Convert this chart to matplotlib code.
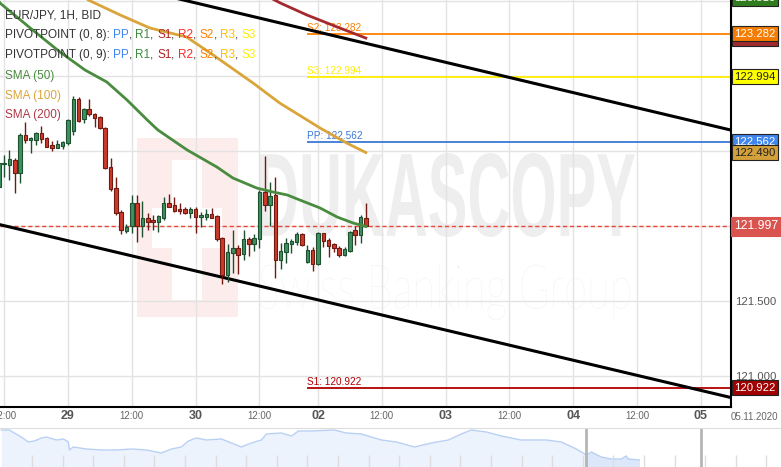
import matplotlib.pyplot as plt
from matplotlib.patches import Rectangle, PathPatch
from matplotlib.textpath import TextPath
from matplotlib.font_manager import FontProperties
from matplotlib.transforms import Affine2D, blended_transform_factory

plt.rcParams['font.family'] = ['Liberation Sans', 'DejaVu Sans']

W, H = 781, 467

# hourly candles, hour index 0 = 29 Oct 00:00 (weekend hours removed)
hours = list(range(-13, 57))
opens = [122.260, 122.413, 122.407, 122.440, 122.356, 122.607, 122.573, 122.573, 122.618, 122.589,
         122.540, 122.522, 122.536, 122.551, 122.636, 122.844, 122.711, 122.778, 122.747, 122.724,
         122.651, 122.391, 122.256, 122.096, 121.969, 122.000, 122.151, 122.000, 122.051, 122.040,
         122.029, 122.056, 122.151, 122.140, 122.113, 122.113, 122.089, 122.111, 122.058, 122.062,
         122.078, 122.067, 121.918, 121.673, 121.818, 121.856, 121.813, 121.911, 121.878, 121.911,
         122.229, 122.140, 122.207, 121.773, 121.829, 121.878, 121.891, 121.944, 121.758, 121.840,
         121.744, 121.951, 121.907, 121.878, 121.856, 121.807, 121.836, 121.973, 121.940, 122.056]
highs = [122.440, 122.473, 122.507, 122.451, 122.618, 122.696, 122.596, 122.629, 122.667, 122.596,
         122.569, 122.573, 122.569, 122.711, 122.867, 122.862, 122.784, 122.844, 122.756, 122.733,
         122.662, 122.456, 122.329, 122.107, 122.013, 122.207, 122.207, 122.167, 122.084, 122.073,
         122.073, 122.196, 122.213, 122.191, 122.156, 122.124, 122.129, 122.124, 122.096, 122.111,
         122.118, 122.073, 121.924, 121.880, 121.973, 121.873, 121.973, 121.924, 121.947, 122.240,
         122.467, 122.291, 122.324, 121.884, 121.918, 121.911, 121.962, 121.951, 121.873, 121.862,
         121.962, 121.956, 121.918, 121.884, 121.869, 121.862, 121.969, 122.000, 122.073, 122.156]
lows = [122.240, 122.324, 122.310, 122.222, 122.289, 122.556, 122.489, 122.540, 122.556, 122.524,
        122.502, 122.518, 122.511, 122.540, 122.607, 122.696, 122.684, 122.733, 122.662, 122.644,
        122.382, 122.236, 122.073, 121.947, 121.951, 121.956, 121.896, 121.924, 121.973, 121.973,
        121.962, 122.040, 122.124, 122.091, 122.080, 122.080, 122.051, 121.956, 121.991, 122.040,
        122.051, 121.902, 121.613, 121.629, 121.689, 121.680, 121.773, 121.800, 121.836, 121.856,
        122.102, 121.998, 121.651, 121.711, 121.751, 121.822, 121.873, 121.867, 121.751, 121.702,
        121.740, 121.862, 121.796, 121.829, 121.796, 121.800, 121.829, 121.873, 121.884, 121.991]
closes = [122.420, 122.422, 122.444, 122.356, 122.607, 122.573, 122.589, 122.618, 122.578, 122.529,
          122.522, 122.547, 122.558, 122.707, 122.844, 122.702, 122.778, 122.744, 122.718, 122.651,
          122.384, 122.247, 122.089, 121.973, 121.996, 122.151, 122.000, 122.051, 122.029, 122.029,
          122.067, 122.151, 122.129, 122.102, 122.100, 122.089, 122.111, 122.058, 122.073, 122.078,
          122.056, 121.911, 121.673, 121.827, 121.856, 121.807, 121.911, 121.878, 121.918, 122.229,
          122.140, 122.202, 121.773, 121.833, 121.884, 121.900, 121.944, 121.873, 121.840, 121.744,
          121.951, 121.900, 121.869, 121.851, 121.807, 121.847, 121.962, 121.940, 122.058, 121.997]

# moving averages
sma50_h = [-14, -12.8, -7.1, -1.5, 3.2, 7.3, 11.1, 14.9, 16.9, 22.4, 28.0, 31.0, 35.5, 38.5, 41.2, 47.4, 50.6, 53.6, 56]
sma50_v = [123.56, 123.487, 123.320, 123.160, 123.040, 122.960, 122.840, 122.707, 122.640, 122.507,
           122.393, 122.320, 122.253, 122.227, 122.207, 122.120, 122.060, 122.020, 121.997]
sma100_h = [2.0, 3.8, 9.8, 15.4, 22.3, 27.3, 34.8, 39.8, 47.4, 52.4, 56]
sma100_v = [123.58, 123.507, 123.407, 123.320, 123.260, 123.140, 122.953, 122.820, 122.653, 122.553, 122.490]
sma200_h = [36.0, 39.9, 44.9, 50.6, 56]
sma200_v = [123.56, 123.487, 123.407, 123.327, 123.253]

# pivot levels of the current session
pivot_names = ['S2', 'S3', 'PP', 'S1']
pivot_vals = [123.282, 122.994, 122.562, 120.922]
pivot_colors = ['#ff8000', '#ffee00', '#3a78d8', '#b00000']
pivot_start = 45

last_price = 121.997

# channel lines (two anchor points each)
upper_h, upper_v = [20, 126], [123.521, 122.628]
lower_h, lower_v = [-14, 126], [122.019, 120.845]

tick_hours = [-12, 0, 12, 24, 36, 47, 59, 71, 83, 95, 107, 119]
tick_labels = ['12:00', '29', '12:00', '30', '12:00', '02', '12:00', '03', '12:00', '04', '12:00', '05']
price_ticks = [121.0, 121.5, 122.0, 122.5, 123.0, 123.5]

# right-axis value markers: value, text, background, text colour
marker_vals = [123.52, 123.253, 123.282, 122.994, 122.562, 122.490, 121.997, 120.922]
marker_text = ['123.510', '123.253', '123.282', '122.994', '122.562', '122.490', '121.997', '120.922']
marker_bg = ['#2f7d1e', '#9e2a2f', '#f57c00', '#ffff00', '#3f86f0', '#d4a03a', '#d9534f', '#a00000']
marker_fg = ['white', 'white', 'white', '#222222', 'white', '#222222', 'white', 'white']

# navigator overview (days, price)
nav_days = [0.0, 0.26, 0.42, 0.65, 0.88, 1.08, 1.31, 1.47, 1.80, 2.03, 2.19, 2.22, 2.35, 2.78, 3.27,
            3.76, 4.25, 4.74, 5.07, 5.23, 5.56, 5.88, 6.11, 6.37, 6.70, 7.19, 7.52, 7.84, 8.17, 8.50,
            8.66, 9.15, 9.48, 9.71, 10.13, 10.88, 11.27, 11.76, 12.42, 12.91, 13.50, 14.05, 14.61,
            15.03, 15.36, 15.85, 16.34, 16.99, 17.81, 18.30, 18.79, 19.12, 19.28, 19.61, 19.93,
            20.26, 20.42, 20.49, 20.85]
nav_vals = [123.00, 123.00, 122.85, 122.65, 122.40, 122.45, 122.60, 122.65, 122.50, 122.55, 122.40,
            122.00, 122.15, 122.05, 122.00, 122.00, 122.05, 122.00, 121.90, 121.85, 122.05, 122.15,
            122.45, 122.60, 122.50, 122.55, 122.35, 122.15, 122.35, 122.50, 122.80, 122.85, 122.70,
            122.95, 122.95, 123.00, 122.85, 122.80, 122.50, 122.40, 122.15, 122.35, 122.50, 122.80,
            123.00, 122.90, 122.70, 122.50, 122.50, 122.40, 122.05, 121.75, 121.90, 121.65, 121.55,
            121.55, 121.70, 121.55, 121.50]
nav_window = [19.12, 22.88]

fig = plt.figure(figsize=(W / 100, H / 100), dpi=100)
ax = fig.add_axes([0, 60 / H, 731 / W, 407 / H])
px = Affine2D().scale(1 / W, -1 / H).translate(0, 1) + fig.transFigure

ax.set_xlim(-12.78, 124.65)
ax.set_ylim(120.7933, 123.5067)

# watermark
ax.add_patch(Rectangle((137, 138), 101, 179, transform=px, color='#fcecec', lw=0, zorder=0.1))
ax.add_patch(Rectangle((172, 160), 30, 140, transform=px, color='white', lw=0, zorder=0.15))
ax.add_patch(Rectangle((152, 208), 70, 40, transform=px, color='white', lw=0, zorder=0.15))


def watermark(s, box, color, weight, family):
    tp = TextPath((0, 0), s, size=1, prop=FontProperties(family=family, weight=weight))
    bb = tp.get_extents()
    x0, y0, x1, y1 = box
    tf = (Affine2D().translate(-bb.x0, -bb.y1)
          .scale((x1 - x0) / bb.width, -(y1 - y0) / bb.height).translate(x0, y0))
    ax.add_patch(PathPatch(tf.transform_path(tp), transform=px, color=color, lw=0, zorder=0.2))


watermark('DUKASCOPY', (260, 153, 635, 237), '#eeeeee', 'bold', 'Liberation Sans')
watermark('Swiss Banking Group', (260, 264, 630, 320), '#f2f2f2', 'light', 'Lato')

ax.set_axisbelow(True)
ax.grid(True, color='#e3e3e3', lw=1)

# pivot lines
for name, v, c in zip(pivot_names, pivot_vals, pivot_colors):
    ax.hlines(v, pivot_start, 130, color=c, lw=1.3, zorder=2)
    ax.annotate(f'{name}: {v:.3f}', (pivot_start, v), xytext=(0, 0.5), textcoords='offset points',
                color=c, fontsize=7.2, va='bottom', ha='left', zorder=2)

ax.axhline(last_price, color='#e8473a', lw=1, ls=(0, (3, 2)), zorder=2)

ax.plot(upper_h, upper_v, color='black', lw=2.2, zorder=3)
ax.plot(lower_h, lower_v, color='black', lw=2.2, zorder=3)

ax.plot(sma100_h, sma100_v, color='#d9a53a', lw=2, zorder=3)
ax.plot(sma200_h, sma200_v, color='#a3292f', lw=2, zorder=3)

# candles
for h, o, hi, lo, c in zip(hours, opens, highs, lows, closes):
    up = c >= o
    edge = '#1e5030' if up else '#701a12'
    fill = '#3f9060' if up else '#cc3a2a'
    ax.vlines(h, lo, hi, color=edge, lw=1, zorder=4)
    ax.bar(h, max(abs(c - o), 0.004), bottom=min(o, c), width=0.66, color=fill,
           edgecolor=edge, lw=0.8, zorder=5)

ax.plot(sma50_h, sma50_v, color='#4a8c3f', lw=2, zorder=6)

for s in ['left', 'top']:
    ax.spines[s].set_visible(False)
for s in ['right', 'bottom']:
    ax.spines[s].set_color('black')
    ax.spines[s].set_linewidth(1.5)

ax.set_xticks(tick_hours)
ax.set_xticklabels(tick_labels)
ax.tick_params(axis='x', length=0, pad=6.8)
for lbl in ax.get_xticklabels():
    lbl.set_va('center')
    if ':' in lbl.get_text():
        lbl.set_fontsize(7)
        lbl.set_color('#666666')
    else:
        lbl.set_fontsize(9)
        lbl.set_fontweight('bold')
        lbl.set_color('#555555')

ax.yaxis.tick_right()
ax.set_yticks(price_ticks)
ax.set_yticklabels([f'{t:.3f}' if min(abs(t - m) for m in marker_vals) > 0.03 else ''
                    for t in price_ticks])
ax.tick_params(axis='y', length=0, pad=3, labelsize=8.2, labelcolor='#555555')

bt = blended_transform_factory(ax.transAxes, ax.transData)
for v, t, bg, fg in zip(marker_vals, marker_text, marker_bg, marker_fg):
    big = t == f'{last_price:.3f}'
    ax.annotate(t, (1, v), xycoords=bt, xytext=(2.6 if big else 2.4, 0), textcoords='offset points',
                fontsize=8.8 if big else 8.2, color=fg, va='center', ha='left',
                annotation_clip=False, zorder=10,
                bbox=dict(boxstyle='square,pad=0.3' if big else 'square,pad=0.22', fc=bg,
                          ec=bg if big else '#222222', lw=0.8))

fig.text(754 / W, 1 - 417 / H, '05.11.2020', fontsize=7, color='#666666', ha='center', va='center')

# legend rows
txt = '#333333'
pv = [('PP', '#3f86f0'), ('R1', '#3c8a3c'), ('S1', '#b22222'), ('R2', '#ff2a2a'),
      ('S2', '#ff8000'), ('R3', '#ffbf00'), ('S3', '#ffee00')]


def row(y, pieces):
    t = fig.text(5 / W, 1 - y / H, pieces[0][0], color=pieces[0][1], fontsize=8.5, va='center')
    for s, c in pieces[1:]:
        t = ax.annotate(s, (1, 0), xycoords=t, va='bottom', ha='left', color=c,
                        fontsize=8.5, annotation_clip=False)


row(15, [('EUR/JPY, 1H, BID', txt)])
for y, n in [(35, 8), (55, 9)]:
    pieces = [(f'PIVOTPOINT (0, {n}): ', txt)]
    for i, (s, c) in enumerate(pv):
        pieces.append((s, c))
        if i < len(pv) - 1:
            pieces.append((', ', txt))
    row(y, pieces)
row(76, [('SMA (50)', '#4a8c3f')])
row(96, [('SMA (100)', '#d9a53a')])
row(115, [('SMA (200)', '#b03a48')])

# navigator
nav = fig.add_axes([0, 0, 1, 39 / H])
nav.set_xlim(-0.046, 25.48)
nav.set_ylim(121.15, 123.1)
nav.fill_between(nav_days, nav_vals, 121.0, color='#edf3fd', lw=0)
sel = nav.fill_between(nav_days, nav_vals, 121.0, color='#dce8f9', lw=0)
sel.set_clip_path(Rectangle((nav_window[0], 121.0), nav_window[1] - nav_window[0], 3,
                            transform=nav.transData))
nav.plot(nav_days, nav_vals, color='#b8d0f4', lw=1)
nav.vlines(range(1, 26), 121.15, 121.75, color='#dddddd', lw=1)
for d in nav_window:
    nav.axvline(d, color='#b5b5b5', lw=2)
for s in ['left', 'right', 'bottom']:
    nav.spines[s].set_visible(False)
nav.spines['top'].set_color('#dddddd')
nav.set_xticks([])
nav.set_yticks([])

fig.savefig('out.png', dpi=100)
